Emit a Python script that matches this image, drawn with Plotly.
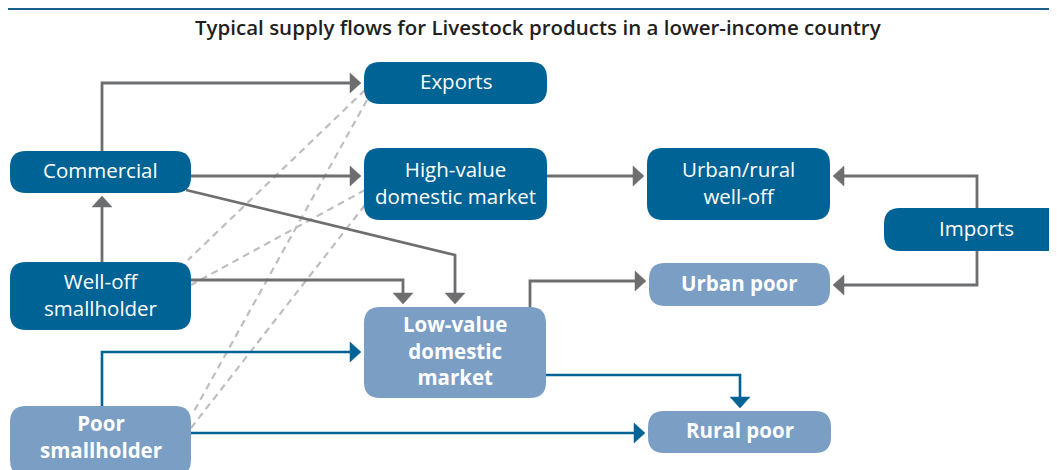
import plotly.graph_objects as go

# ===== NODES (pixel space of the 1057x470 canvas) ===== #
node_labels = ["Exports", "Commercial", "High-value<br>domestic market", "Urban/rural<br>well-off",
               "Imports", "Well-off<br>smallholder", "Urban poor", "Low-value<br>domestic<br>market",
               "Poor<br>smallholder", "Rural poor"]
node_x0 = [364, 10, 364, 647, 884, 10, 649, 364, 10, 648]
node_x1 = [547, 191, 547, 830, 1075, 191, 830, 546, 191, 831]
node_y0 = [62, 151, 148, 148, 208, 262, 263, 307, 406, 411]
node_y1 = [104, 193, 220, 220, 251, 330, 306, 398, 476, 453]
node_kind = ["dark", "dark", "dark", "dark", "dark", "dark", "light", "light", "light", "light"]
# label centres where the box is clipped by the canvas edge
label_cx = [None, None, None, None, 976, None, None, None, None, None]
label_cy = [None, None, None, None, None, None, None, None, 438, None]

# ===== FLOWS (polyline routes, last point gets the arrowhead) ===== #
grey_flows = [
    [(102, 151), (102, 83), (364, 83)],            # Commercial -> Exports
    [(191, 176), (364, 176)],                      # Commercial -> High-value
    [(186, 190), (455, 255), (455, 307)],          # Commercial -> Low-value
    [(102, 262), (102, 193)],                      # Well-off -> Commercial
    [(191, 280), (403, 280), (403, 307)],          # Well-off -> Low-value
    [(547, 176), (647, 176)],                      # High-value -> Urban/rural well-off
    [(977, 208), (977, 176), (830, 176)],          # Imports -> Urban/rural well-off
    [(977, 251), (977, 285), (830, 285)],          # Imports -> Urban poor
    [(530, 307), (530, 281), (649, 281)],          # Low-value -> Urban poor
]
blue_flows = [
    [(546, 375), (740, 375), (740, 411)],          # Low-value -> Rural poor
    [(102, 406), (102, 352), (364, 352)],          # Poor -> Low-value
    [(191, 433), (648, 433)],                      # Poor -> Rural poor
]
dashed_links = [
    [(365, 90), (188, 260)],                       # Exports - Well-off
    [(367, 100), (193, 413)],                      # Exports - Poor
    [(365, 190), (191, 285)],                      # High-value - Well-off
    [(365, 205), (191, 428)],                      # High-value - Poor
]

title_text = "Typical supply flows for Livestock products in a lower-income country"

DARK = "#006395"
LIGHT = "#7b9ec4"
GREY = "#6d6e70"
DASH = "#bebec0"
FONT = "Open Sans"

# the page body has an 8px margin: shift the axes so data units == page pixels
OFF = 8


def rounded_rect(x0, y0, x1, y1, r=16):
    return (f"M {x0 + r},{y0} L {x1 - r},{y0} Q {x1},{y0} {x1},{y0 + r} "
            f"L {x1},{y1 - r} Q {x1},{y1} {x1 - r},{y1} L {x0 + r},{y1} "
            f"Q {x0},{y1} {x0},{y1 - r} L {x0},{y0 + r} Q {x0},{y0} {x0 + r},{y0} Z")


def arrow_shapes(pts, color, width):
    """polyline + filled triangle head at the last point"""
    (xa, ya), (xb, yb) = pts[-2], pts[-1]
    length = ((xb - xa) ** 2 + (yb - ya) ** 2) ** 0.5
    ux, uy = (xb - xa) / length, (yb - ya) / length
    tipx, tipy = xb - 3 * ux, yb - 3 * uy
    basex, basey = tipx - 11 * ux, tipy - 11 * uy
    px, py = -uy, ux
    line_pts = pts[:-1] + [(basex + ux, basey + uy)]
    path = "M " + " L ".join(f"{x},{y}" for x, y in line_pts)
    head = (f"M {tipx},{tipy} L {basex + 10 * px},{basey + 10 * py} "
            f"L {basex - 10 * px},{basey - 10 * py} Z")
    return [
        dict(type="path", path=path, line=dict(color=color, width=width), layer="above"),
        dict(type="path", path=head, fillcolor=color, line=dict(color=color, width=0.5), layer="above"),
    ]


shapes = []

# Top rule (as high as the page margin allows)
shapes.append(dict(type="line", x0=0, x1=1057, y0=OFF + 1, y1=OFF + 1, line=dict(color="#1d5f8c", width=2)))

# Dashed links (behind)
for pts in dashed_links:
    path = "M " + " L ".join(f"{x},{y}" for x, y in pts)
    shapes.append(dict(type="path", path=path, line=dict(color=DASH, width=2.2, dash="7px,5px")))

for pts in grey_flows:
    shapes += arrow_shapes(pts, GREY, 2.8)
for pts in blue_flows:
    shapes += arrow_shapes(pts, DARK, 2.6)

annotations = []
for i, lab in enumerate(node_labels):
    x0, x1, y0, y1 = node_x0[i], node_x1[i], node_y0[i], node_y1[i]
    fill = DARK if node_kind[i] == "dark" else LIGHT
    shapes.append(dict(type="path", path=rounded_rect(x0, y0, x1, y1), fillcolor=fill,
                       line=dict(color=fill, width=0)))
    cx = label_cx[i] if label_cx[i] is not None else (x0 + x1) / 2
    cy = label_cy[i] if label_cy[i] is not None else (y0 + y1) / 2
    bold = node_kind[i] == "light"
    annotations.append(dict(x=cx, y=cy, text=lab, showarrow=False, xanchor="center", yanchor="middle",
                            yshift=2,
                            font=dict(family=FONT, size=20.5, color="white",
                                      weight=700 if bold else 400)))

annotations.append(dict(x=538, y=27, text=title_text, showarrow=False,
                        xanchor="center", yanchor="middle",
                        font=dict(family=FONT, size=20.5, color="#231f20", weight=600)))

fig = go.Figure()
fig.update_layout(
    width=1057 - OFF, height=470 - OFF,
    margin=dict(l=0, r=0, t=0, b=0),
    paper_bgcolor="white", plot_bgcolor="white",
    xaxis=dict(range=[OFF, 1057], visible=False, fixedrange=True),
    yaxis=dict(range=[470, OFF], visible=False, fixedrange=True),
    shapes=shapes, annotations=annotations, showlegend=False,
)
fig.write_html("out.html")
